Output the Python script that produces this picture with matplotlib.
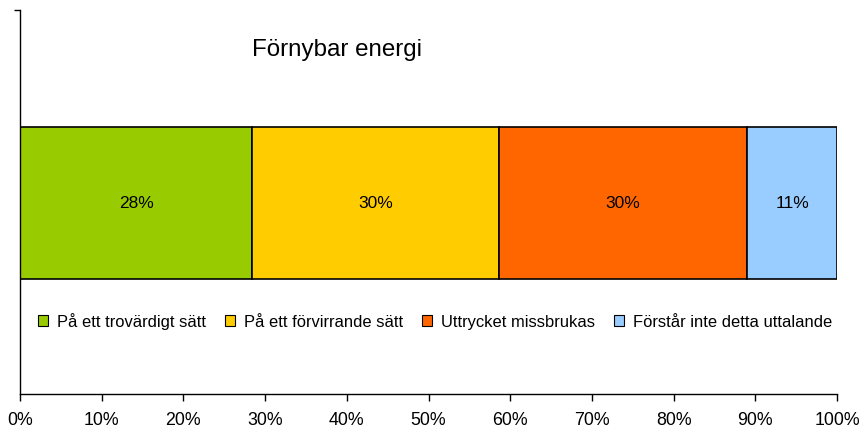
import matplotlib
matplotlib.use("Agg")
import matplotlib.pyplot as plt
from matplotlib.patches import Patch

title = "Förnybar energi"
categories = ["På ett trovärdigt sätt", "På ett förvirrande sätt",
              "Uttrycket missbrukas", "Förstår inte detta uttalande"]
values = [28.4, 30.2, 30.4, 11.0]
labels = ["28%", "30%", "30%", "11%"]
colors = ["#99CC00", "#FFCC00", "#FF6600", "#99CCFF"]
xticks = list(range(0, 101, 10))
xticklabels = [f"{t}%" for t in xticks]

plt.rcParams['font.family'] = ['Liberation Sans', 'DejaVu Sans']

fig = plt.figure(figsize=(8.65, 4.29), dpi=100)
ax = fig.add_axes([20/865, 1-394/429, 817/865, 384/429])

left = 0
for v, c, lab, cat in zip(values, colors, labels, categories):
    ax.barh(0.497, v, left=left, height=0.395, color=c, edgecolor="black", linewidth=1.2, label=cat)
    ax.text(left + v/2, 0.497, lab, ha="center", va="center", fontsize=12.5)
    left += v

ax.set_xlim(0, 100)
ax.set_ylim(0, 1)
ax.set_xticks(xticks)
ax.set_xticklabels(xticklabels, fontsize=12.8)
ax.set_yticks([1])
ax.set_yticklabels([])
ax.tick_params(axis='x', length=5, width=1, pad=8)
ax.tick_params(axis='y', length=4, width=1)
for s in ["top", "right"]:
    ax.spines[s].set_visible(False)
for s in ["left", "bottom"]:
    ax.spines[s].set_linewidth(1)

ax.text(38.8, 0.896, title, ha="center", va="center", fontsize=17.4)

handles = [Patch(facecolor=c, edgecolor="black", linewidth=0.8) for c in colors]
ax.legend(handles, categories, loc="center", bbox_to_anchor=(0.5086, 0.19), ncol=4,
          frameon=False, fontsize=11.9, handlelength=0.6, handleheight=0.6,
          handletextpad=0.55, columnspacing=1.15)

fig.savefig("out.png", dpi=100)
